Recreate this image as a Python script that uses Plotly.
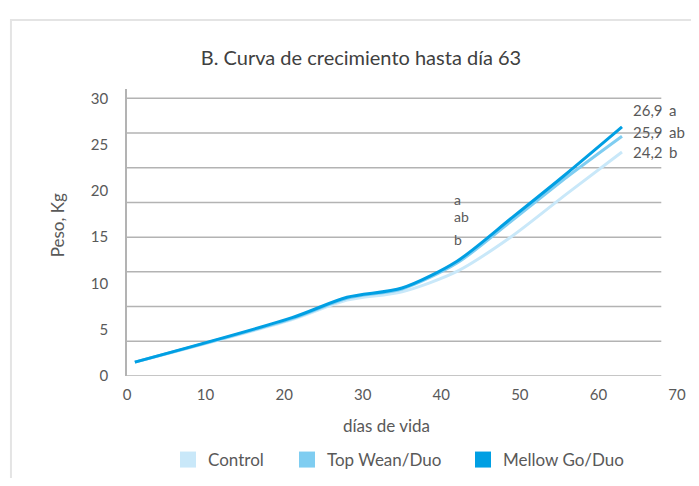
import plotly.graph_objects as go

# ---- data ----
days = [1, 21, 28, 35, 42, 49, 56, 63]
control = [1.5, 6.1, 8.2, 9.1, 11.3, 15.1, 19.7, 24.2]
top_wean = [1.5, 6.2, 8.4, 9.4, 12.2, 16.8, 21.5, 25.9]
mellow = [1.5, 6.3, 8.5, 9.5, 12.4, 17.1, 21.9, 26.9]

series_names = ["Control", "Top Wean/Duo", "Mellow Go/Duo"]
series_values = [control, top_wean, mellow]
series_colors = ["#c9e8f9", "#7fcdf1", "#009fe3"]

end_values = ["26,9", "25,9", "24,2"]
end_letters = ["a", "ab", "b"]
mid_letters = ["a", "ab", "b"]

x_ticks = [0, 10, 20, 30, 40, 50, 60, 70]
y_ticks = [0, 5, 10, 15, 20, 25, 30]
grid_levels = [i * 3.75 for i in range(9)]

TXT = "#595959"
GRID = "#b3b3b3"
FONT = "Lato"

# page has an 8px body margin; figure sized to fit the window
OFF = 8
W, H = 691, 470


def cx(xw):
    return (xw - OFF) / W


def cy(yw):
    return 1 - (yw - OFF) / H


fig = go.Figure()

for name, vals, col in zip(series_names, series_values, series_colors):
    fig.add_trace(go.Scatter(
        x=days, y=vals, mode="lines", name=name,
        line=dict(color=col, width=3, shape="spline", smoothing=0.8),
        showlegend=False, hoverinfo="skip"))

legend_ids = ["legend", "legend2", "legend3"]
for name, col, lid in zip(series_names, series_colors, legend_ids):
    fig.add_trace(go.Scatter(
        x=[None], y=[None], mode="markers", name=name, legend=lid,
        marker=dict(symbol="square", size=16, color=col)))

shapes = []
for g in grid_levels:
    shapes.append(dict(type="line", xref="x", yref="y", x0=0, x1=68.0,
                       y0=g, y1=g, line=dict(color=GRID, width=1.5), layer="below"))
shapes.append(dict(type="rect", xref="paper", yref="paper",
                   x0=-0.211, x1=1.3, y0=-1.0, y1=1.240,
                   line=dict(color="#e4e4e4", width=2), layer="below"))

annotations = []
end_label_y = [28.7, 26.4, 24.2]
for v, l, yy in zip(end_values, end_letters, end_label_y):
    annotations.append(dict(x=64.2, y=yy, xref="x", yref="y", text=v,
                            showarrow=False, xanchor="left", yanchor="middle",
                            font=dict(size=15, color=TXT, family=FONT)))
    annotations.append(dict(x=68.7, y=yy, xref="x", yref="y", text=l,
                            showarrow=False, xanchor="left", yanchor="middle",
                            font=dict(size=15, color=TXT, family=FONT)))
mid_label_y = [19.05, 17.2, 14.7]
for l, yy in zip(mid_letters, mid_label_y):
    annotations.append(dict(x=41.3, y=yy, xref="x", yref="y", text=l,
                            showarrow=False, xanchor="left", yanchor="middle",
                            font=dict(size=14, color=TXT, family=FONT)))
annotations.append(dict(x=33.0, y=-0.171, xref="x", yref="paper", text="días de vida",
                        showarrow=False, xanchor="center", yanchor="middle",
                        font=dict(size=17, color=TXT, family=FONT)))
annotations.append(dict(x=-0.127, y=16.3, xref="paper", yref="y", text="Peso, Kg",
                        showarrow=False, xanchor="center", yanchor="middle", textangle=-90,
                        font=dict(size=17, color=TXT, family=FONT)))

legend_square_x = [188, 307, 483]
legend_layouts = {}
for lid, sx in zip(legend_ids, legend_square_x):
    legend_layouts[lid] = dict(
        orientation="h", xref="container", yref="container",
        x=cx(sx - 20), xanchor="left", y=cy(460), yanchor="middle",
        font=dict(size=17, color=TXT, family=FONT),
        itemwidth=30, bgcolor="rgba(0,0,0,0)")

fig.update_layout(
    width=W, height=H,
    margin=dict(l=127 - OFF, r=W - (677 - OFF), t=89 - OFF, b=H - (376 - OFF)),
    paper_bgcolor="white", plot_bgcolor="white",
    font=dict(family=FONT, color=TXT, size=15),
    title=dict(text="B. Curva de crecimiento hasta día 63",
               x=cx(361), xref="container", xanchor="center",
               y=cy(58), yref="container", yanchor="middle",
               font=dict(size=20, color="#404040", family=FONT)),
    xaxis=dict(range=[0, 70], tickvals=x_ticks, showgrid=False, zeroline=False,
               showline=False, ticks="", tickfont=dict(size=15, color=TXT),
               ticklabelstandoff=8),
    yaxis=dict(range=[0, 31], tickvals=y_ticks, showgrid=False, zeroline=False,
               showline=True, linecolor=GRID, linewidth=1.5, ticks="",
               tickfont=dict(size=15, color=TXT), ticklabelstandoff=14),
    shapes=shapes,
    annotations=annotations,
    hovermode=False,
    **legend_layouts,
)

fig.write_html("out.html")
